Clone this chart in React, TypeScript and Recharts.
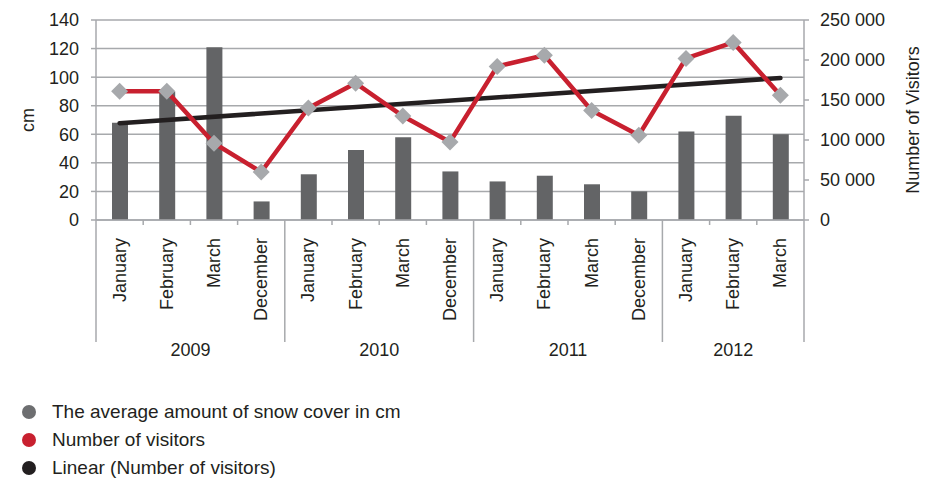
import {
    ComposedChart,
    Bar,
    Line,
    XAxis,
    YAxis,
    CartesianGrid,
    ReferenceLine,
    Label,
} from "recharts";

const MONTHS = [
    "January", "February", "March", "December",
    "January", "February", "March", "December",
    "January", "February", "March", "December",
    "January", "February", "March",
];

const YEARS = [
    "2009", "2009", "2009", "2009",
    "2010", "2010", "2010", "2010",
    "2011", "2011", "2011", "2011",
    "2012", "2012", "2012",
];

// average snow cover, cm
const SNOW = [68, 90, 121, 13, 32, 49, 58, 34, 27, 31, 25, 20, 62, 73, 60];

const VISITORS = [
    161000, 161000, 96000, 60000,
    140000, 171000, 130000, 97500,
    192000, 206000, 137000, 106000,
    202000, 222000, 156000,
];

// linear trend of visitors, first and last period
const TREND = [121000, 177500];

const CM_TICKS = [0, 20, 40, 60, 80, 100, 120, 140];
const VISITOR_TICKS = [0, 50000, 100000, 150000, 200000, 250000];

const FONT = "'Liberation Sans', Arial, sans-serif";
const TEXT = "#231f20";
const AXIS = "#a7a9ac";

const data = MONTHS.map((month, i) => ({
    key: `${YEARS[i]}-${i}`,
    month,
    year: YEARS[i],
    snow: SNOW[i],
    visitors: VISITORS[i],
}));

const formatThousands = (v: number) =>
    String(v).replace(/\B(?=(\d{3})+(?!\d))/g, " ");

function MonthTick(props: any) {
    const { x, y, payload } = props;
    const i = payload.index;
    const half = payload.offset || 0;
    const left = x - half;
    const first = i === 0 || YEARS[i - 1] !== YEARS[i];
    const last = i === YEARS.length - 1;
    const groupSize = YEARS.filter((yr) => yr === YEARS[i]).length;

    return (
        <g>
            <text
                x={x}
                y={y + 18}
                transform={`rotate(-90, ${x}, ${y + 18})`}
                textAnchor="end"
                dominantBaseline="central"
                fontSize={18}
                fontFamily={FONT}
                fill={TEXT}
            >
                {MONTHS[i]}
            </text>
            {first ? (
                <>
                    <line x1={left} x2={left} y1={y} y2={y + 122} stroke={AXIS} strokeWidth={1.5} />
                    <text
                        x={left + groupSize * half}
                        y={y + 130}
                        textAnchor="middle"
                        dominantBaseline="central"
                        fontSize={18}
                        fontFamily={FONT}
                        fill={TEXT}
                    >
                        {YEARS[i]}
                    </text>
                </>
            ) : (
                <line x1={left} x2={left} y1={y} y2={y + 5} stroke={AXIS} strokeWidth={1.5} />
            )}
            {last && (
                <line x1={x + half} x2={x + half} y1={y} y2={y + 122} stroke={AXIS} strokeWidth={1.5} />
            )}
        </g>
    );
}

function Diamond(props: any) {
    const { cx, cy, index } = props;
    const r = 8.5;
    return (
        <path
            key={`d-${index}`}
            d={`M${cx},${cy - r} L${cx + r},${cy} L${cx},${cy + r} L${cx - r},${cy} Z`}
            fill="#a7a9ac"
        />
    );
}

const LEGEND = [
    { name: "The average amount of snow cover in cm", color: "#6d6e70" },
    { name: "Number of visitors", color: "#c8202f" },
    { name: "Linear (Number of visitors)", color: "#231f20" },
];

export default function App() {
    return (
        <div
            style={{
                position: "absolute",
                left: 0,
                top: 0,
                width: 928,
                height: 482,
                background: "#fff",
                fontFamily: FONT,
            }}
        >
            <ComposedChart
                width={928}
                height={370}
                data={data}
                margin={{ top: 20, right: 0, bottom: 0, left: 0 }}
            >
                <CartesianGrid
                    yAxisId="cm"
                    vertical={false}
                    stroke={AXIS}
                    strokeWidth={1.5}
                />
                <XAxis
                    dataKey="key"
                    height={150}
                    interval={0}
                    tickSize={0}
                    tickMargin={0}
                    tickLine={false}
                    axisLine={{ stroke: AXIS, strokeWidth: 1.5 }}
                    tick={(p: any) => <MonthTick {...p} />}
                />
                <YAxis
                    yAxisId="cm"
                    width={96}
                    domain={[0, 140]}
                    ticks={CM_TICKS}
                    tickSize={5}
                    tickMargin={12}
                    tickLine={{ stroke: AXIS, strokeWidth: 1.5 }}
                    axisLine={{ stroke: AXIS, strokeWidth: 1.5 }}
                    tick={{ fontSize: 18, fill: TEXT, fontFamily: FONT }}
                >
                    <Label
                        value="cm"
                        angle={-90}
                        position="insideLeft"
                        offset={28}
                        style={{ fontSize: 18, fill: TEXT, fontFamily: FONT, textAnchor: "middle" }}
                    />
                </YAxis>
                <YAxis
                    yAxisId="visitors"
                    orientation="right"
                    width={124}
                    domain={[0, 250000]}
                    ticks={VISITOR_TICKS}
                    tickSize={5}
                    tickMargin={11}
                    tickFormatter={formatThousands}
                    tickLine={{ stroke: AXIS, strokeWidth: 1.5 }}
                    axisLine={{ stroke: AXIS, strokeWidth: 1.5 }}
                    tick={{ fontSize: 18, fill: TEXT, fontFamily: FONT }}
                >
                    <Label
                        value="Number of Visitors"
                        angle={-90}
                        position="insideRight"
                        offset={15}
                        style={{ fontSize: 18, fill: TEXT, fontFamily: FONT, textAnchor: "middle" }}
                    />
                </YAxis>
                <Bar
                    yAxisId="cm"
                    dataKey="snow"
                    fill="#636466"
                    barSize={16}
                    isAnimationActive={false}
                />
                <ReferenceLine
                    yAxisId="visitors"
                    segment={[
                        { x: data[0].key, y: TREND[0] },
                        { x: data[data.length - 1].key, y: TREND[1] },
                    ]}
                    stroke="#231f20"
                    strokeWidth={4.5}
                    strokeLinecap="round"
                    ifOverflow="visible"
                />
                <Line
                    yAxisId="visitors"
                    dataKey="visitors"
                    stroke="#c8202f"
                    strokeWidth={4.5}
                    dot={Diamond}
                    activeDot={false}
                    isAnimationActive={false}
                />
            </ComposedChart>
            <div style={{ position: "absolute", left: 22, top: 398 }}>
                {LEGEND.map((item) => (
                    <div
                        key={item.name}
                        style={{
                            display: "flex",
                            alignItems: "center",
                            height: 28,
                            fontSize: 19,
                            color: TEXT,
                        }}
                    >
                        <span
                            style={{
                                width: 14,
                                height: 14,
                                borderRadius: "50%",
                                background: item.color,
                                marginRight: 16,
                            }}
                        />
                        {item.name}
                    </div>
                ))}
            </div>
        </div>
    );
}
